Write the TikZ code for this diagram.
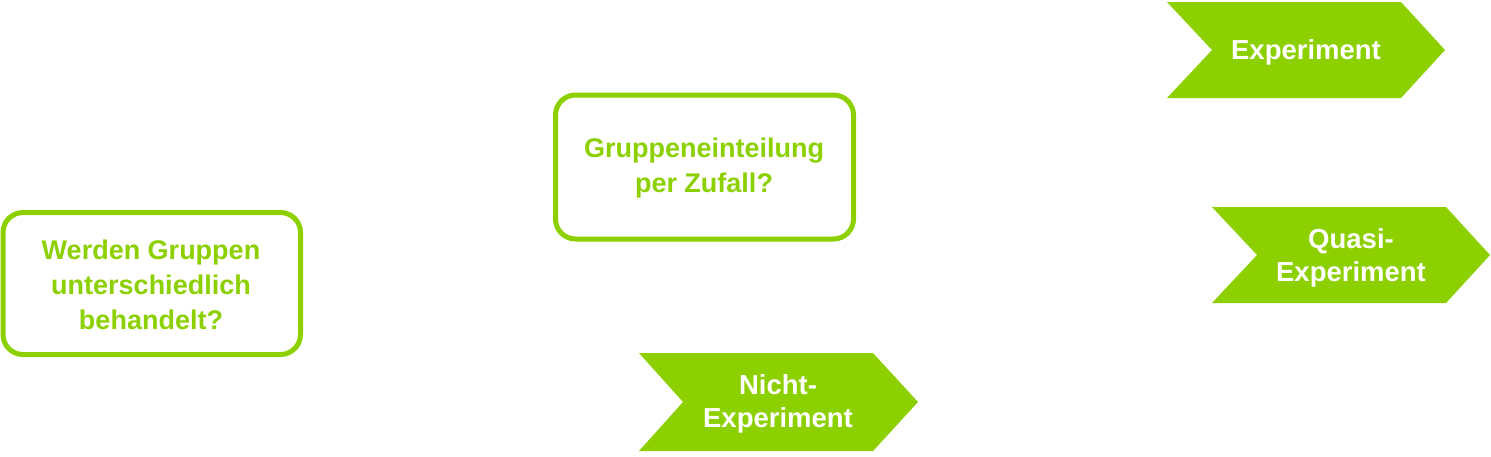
\documentclass[tikz,border=0pt]{standalone}
\usepackage{fontspec}
\setmainfont{Liberation Sans}
\definecolor{lgreen}{RGB}{140,208,0}
\tikzset{
  qbox/.style={draw=lgreen, line width=5pt, rounded corners=20pt, fill=white},
  qtext/.style={text=lgreen, font=\fontsize{27}{35}\selectfont\bfseries, align=center, inner sep=0pt},
  chev/.style={fill=lgreen, draw=none},
  ctext/.style={text=white, font=\fontsize{27.5}{33}\selectfont\bfseries, align=center, inner sep=0pt}
}
\begin{document}
\begin{tikzpicture}[x=1pt,y=-1pt]
\useasboundingbox (0,0) rectangle (1491,456);
% question boxes
\draw[qbox] (3,212.5) rectangle (300.5,354.5);
\node[qtext] (q1) at (151,285) {Werden Gruppen\\unterschiedlich\\behandelt?};
\draw[qbox] (555.5,95) rectangle (853.5,239);
\node[qtext] (q2) at (704,168) {Gruppeneinteilung\\per Zufall?};
% chevrons
\fill[chev] (1167,2) -- (1401,2) -- (1445,50) -- (1401,98) -- (1167,98) -- (1212,50) -- cycle;
\node[ctext] (exp) at (1306,52) {Experiment};
\fill[chev] (1212,207) -- (1446,207) -- (1490,255) -- (1446,303) -- (1212,303) -- (1257,255) -- cycle;
\node[ctext] (quasi) at (1351,258) {Quasi-\\Experiment};
\fill[chev] (639,353) -- (873,353) -- (918,402) -- (873,451) -- (639,451) -- (683,402) -- cycle;
\node[ctext] (nicht) at (778,404) {Nicht-\\Experiment};
\end{tikzpicture}
\end{document}
